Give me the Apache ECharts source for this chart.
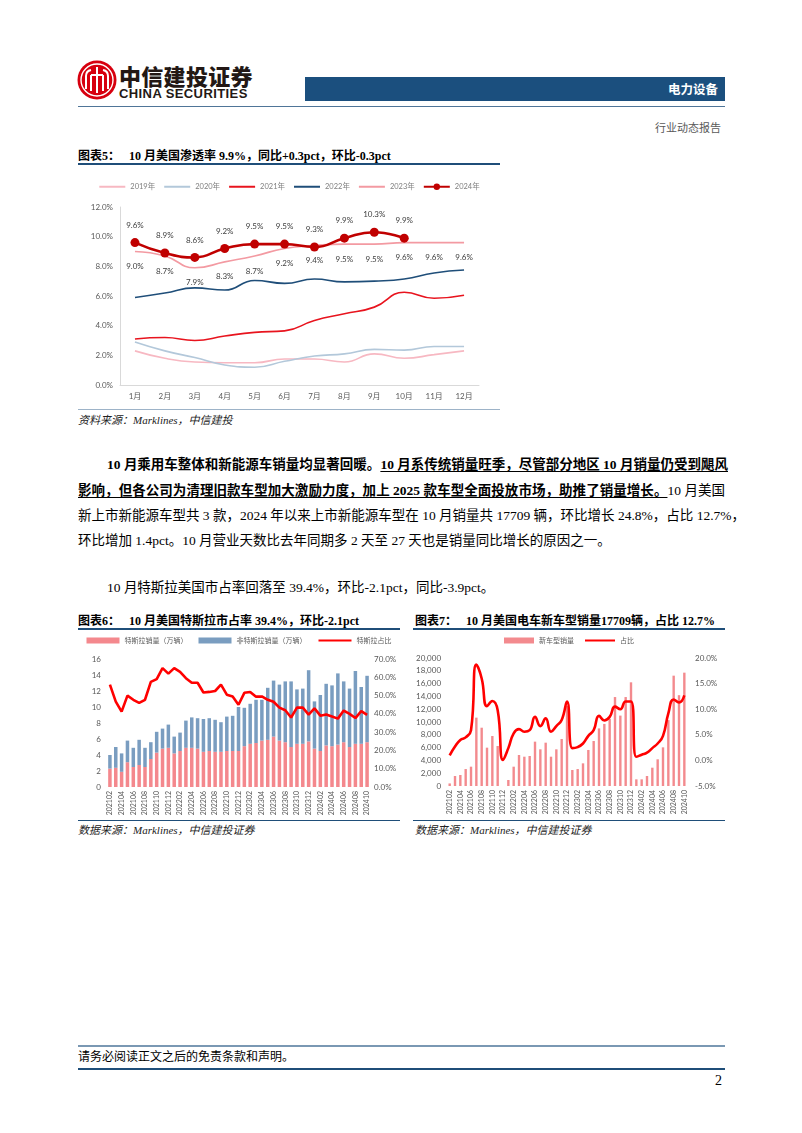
<!DOCTYPE html>
<html>
<head>
<meta charset="utf-8">
<script src="https://cdn.jsdelivr.net/npm/echarts/dist/echarts.min.js"></script>
<style>
  html, body { margin: 0; padding: 0; background: #fff; }
  #page { position: relative; width: 802px; height: 1133px; overflow: hidden; font-family: "Liberation Serif", "Noto Sans CJK SC", serif; color: #000; }
  .abs { position: absolute; white-space: nowrap; }
  .hline { position: absolute; height: 0; }
  .title { font-size: 12px; font-weight: bold; }
  .src { font-size: 11px; font-style: italic; color: #222; }
  .para { position: absolute; left: 78px; width: 647px; font-size: 13.5px; line-height: 18px; text-align: justify; text-align-last: justify; white-space: nowrap; }
  .bu { font-weight: bold; text-decoration: underline; text-underline-offset: 2px; }
  .b { font-weight: bold; }
</style>
</head>
<body>
<div id="page">
  <!-- header -->
  <svg class="abs" style="left:77px;top:60px" width="40" height="40" viewBox="0 0 40 40">
    <circle cx="20" cy="20" r="19.5" fill="#D7000F"/>
    <circle cx="20" cy="20" r="16" fill="none" stroke="#fff" stroke-width="1.4"/>
    <path d="M9 29 V16 Q9 11 14 10 M14 31 V15 M20 33 V7 M26 31 V15 M31 29 V16 Q31 11 26 10 M14 15 H26" fill="none" stroke="#fff" stroke-width="2"/>
  </svg>
  <div class="abs" style="left:119px;top:62px;font-family:'Noto Sans CJK SC';font-weight:900;font-size:22px;line-height:26px;color:#231815;letter-spacing:0.3px">中信建投证券</div>
  <div class="abs" style="left:119px;top:87px;font-family:'Liberation Sans';font-weight:bold;font-size:13px;line-height:14px;color:#231815;letter-spacing:0.4px">CHINA SECURITIES</div>
  <div class="abs" style="left:305px;top:77px;width:420px;height:24px;background:#1B4F7E"></div>
  <div class="abs" style="left:668px;top:80px;font-family:'Noto Sans CJK SC';font-weight:bold;font-size:12.5px;line-height:18px;color:#fff">电力设备</div>
  <div class="hline" style="left:78px;top:106px;width:647px;border-top:1.5px solid #4F7598"></div>
  <div class="abs" style="left:655px;top:119px;font-family:'Noto Sans CJK SC';font-size:11px;line-height:16px;color:#595959">行业动态报告</div>

  <!-- chart 5 -->
  <div class="abs title" style="left:78px;top:146px">图表5：&nbsp;&nbsp;&nbsp;10 月美国渗透率 9.9%，同比+0.3pct，环比-0.3pct</div>
  <div class="hline" style="left:78px;top:163px;width:422px;border-top:2px solid #1F4E79"></div>
  <div id="c5" class="abs" style="left:78px;top:170px;width:422px;height:238px"></div>
  <div class="hline" style="left:78px;top:409px;width:422px;border-top:1px solid #9DB3C8"></div>
  <div class="abs src" style="left:78px;top:411px">资料来源：Marklines，中信建投</div>

  <!-- paragraph -->
  <div class="para" style="top:456px;left:107px;width:618px"><span class="b">10 月乘用车整体和新能源车销量均显著回暖。</span><span class="bu">10 月系传统销量旺季，尽管部分地区 10 月销量仍受到飓风</span></div>
  <div class="para" style="top:482px"><span class="bu">影响，但各公司为清理旧款车型加大激励力度，加上 2025 款车型全面投放市场，助推了销量增长。</span>10 月美国</div>
  <div class="para" style="top:507px">新上市新能源车型共 3 款，2024 年以来上市新能源车型在 10 月销量共 17709 辆，环比增长 24.8%，占比 12.7%，</div>
  <div class="abs" style="left:78px;top:532px;font-size:13.5px;line-height:18px">环比增加 1.4pct。10 月营业天数比去年同期多 2 天至 27 天也是销量同比增长的原因之一。</div>
  <div class="abs" style="left:107px;top:579px;font-size:13.5px;line-height:18px">10 月特斯拉美国市占率回落至 39.4%，环比-2.1pct，同比-3.9pct。</div>

  <!-- chart 6 -->
  <div class="abs title" style="left:78px;top:611px">图表6：&nbsp;&nbsp;&nbsp;10 月美国特斯拉市占率 39.4%，环比-2.1pct</div>
  <div class="hline" style="left:78px;top:628px;width:322px;border-top:2px solid #1F4E79"></div>
  <div id="c6" class="abs" style="left:78px;top:631px;width:322px;height:188px"></div>
  <div class="hline" style="left:78px;top:820px;width:322px;border-top:1.5px solid #1F4E79"></div>
  <div class="abs src" style="left:78px;top:821px">数据来源：Marklines，中信建投证券</div>

  <!-- chart 7 -->
  <div class="abs title" style="left:415px;top:611px">图表7：&nbsp;&nbsp;&nbsp;10 月美国电车新车型销量17709辆，占比 12.7%</div>
  <div class="hline" style="left:413px;top:628px;width:312px;border-top:2px solid #1F4E79"></div>
  <div id="c7" class="abs" style="left:413px;top:631px;width:312px;height:188px"></div>
  <div class="hline" style="left:413px;top:820px;width:312px;border-top:1.5px solid #1F4E79"></div>
  <div class="abs src" style="left:415px;top:821px">数据来源：Marklines，中信建投证券</div>

  <!-- footer -->
  <div class="hline" style="left:78px;top:1045px;width:647px;border-top:2px solid #7A98B3"></div>
  <div class="abs" style="left:78px;top:1049px;font-size:12px;line-height:16px">请务必阅读正文之后的免责条款和声明。</div>
  <div class="hline" style="left:78px;top:1068px;width:647px;border-top:2px solid #1F4E79"></div>
  <div class="abs" style="left:715px;top:1073px;font-size:14px;line-height:16px">2</div>
</div>

<script>
// ---- chart 5: US EV penetration by month (%)
const months5 = ['1月', '2月', '3月', '4月', '5月', '6月', '7月', '8月', '9月', '10月', '11月', '12月'];
const pen2019 = [2.3, 1.8, 1.55, 1.5, 1.5, 1.75, 1.75, 1.55, 2.1, 1.8, 2.05, 2.3];
const pen2020 = [2.9, 2.3, 1.85, 1.35, 1.2, 1.6, 1.95, 2.1, 2.4, 2.35, 2.6, 2.6];
const pen2021 = [3.1, 3.2, 3.0, 3.3, 3.55, 3.65, 4.35, 4.8, 5.25, 6.25, 5.85, 6.05];
const pen2022 = [5.9, 6.2, 6.55, 6.4, 7.05, 6.85, 7.15, 6.95, 7.0, 7.15, 7.55, 7.75];
const pen2023 = [9.0, 8.7, 7.9, 8.3, 8.7, 9.2, 9.4, 9.5, 9.5, 9.6, 9.6, 9.6];
const pen2024 = [9.6, 8.9, 8.6, 9.2, 9.5, 9.5, 9.3, 9.9, 10.3, 9.9];

// ---- chart 6 / 7: monthly categories 2021-02 .. 2024-10
const months = [
  '202102', '202103', '202104', '202105', '202106', '202107', '202108', '202109', '202110', '202111', '202112',
  '202201', '202202', '202203', '202204', '202205', '202206', '202207', '202208', '202209', '202210', '202211', '202212',
  '202301', '202302', '202303', '202304', '202305', '202306', '202307', '202308', '202309', '202310', '202311', '202312',
  '202401', '202402', '202403', '202404', '202405', '202406', '202407', '202408', '202409', '202410'
];
// Tesla / non-Tesla sales (10k units), Tesla share (%)
const teslaSales = [2.3, 2.4, 1.9, 3.1, 2.5, 2.75, 2.5, 3.5, 4.3, 4.8, 4.9, 4.2, 4.5, 4.9, 4.9, 4.8, 4.4, 4.5, 4.4, 4.4, 4.5, 4.5, 4.5,
  5.1, 5.4, 5.5, 5.8, 5.9, 6.3, 5.8, 5.6, 5.0, 5.4, 5.4, 5.7, 4.8, 4.5, 5.2, 5.1, 5.3, 5.6, 5.0, 5.4, 5.4, 5.6];
const otherSales = [1.7, 2.6, 2.3, 2.7, 2.4, 3.15, 2.4, 2.1, 2.6, 2.5, 2.9, 2.1, 2.3, 3.4, 3.8, 3.8, 4.1, 4.1, 4.0, 3.7, 4.3, 4.4, 5.5,
  4.8, 5.0, 5.4, 5.1, 6.5, 7.0, 7.0, 7.6, 8.2, 6.8, 6.9, 8.9, 5.9, 7.0, 7.7, 7.6, 8.9, 7.6, 7.3, 9.1, 7.1, 8.3];
const teslaShare = [56, 46.7, 41.2, 50, 47.7, 46, 47.7, 57.5, 59, 65, 62, 65, 63, 59.5, 57, 57, 51.7, 52, 52.5, 56, 50.5, 49.5, 45,
  51.5, 52, 49.4, 49.5, 47.7, 46.6, 43.4, 42, 38, 43.4, 43.4, 39.6, 43, 39, 39.6, 38.6, 37.4, 41.8, 40, 37.7, 41.5, 39.4];

// New EV models sales (units) and share (%)
const newModelSales = [400, 1560, 1720, 2650, 3020, 10680, 9110, 5990, 7810, 6250, 0, 940, 3020, 4840, 4580, 4690, 6930, 5730, 6770,
  4580, 5730, 7340, 12500, 2500, 2650, 3540, 5630, 7030, 9000, 9700, 10500, 13900, 11000, 13900, 16200, 1040, 1040, 1560, 2860,
  4170, 6040, 10300, 17240, 14190, 17709];
const newModelShare = [1.0, 2.7, 4.0, 4.5, 5.9, 18.7, 16.0, 10.6, 11.6, 9.8, 0.1, 2.4, 5.3, 6.1, 5.6, 5.9, 8.5, 6.7, 8.2, 5.6, 6.7,
  7.9, 11.5, 2.4, 2.6, 3.3, 4.8, 5.9, 8.7, 7.8, 8.5, 10.5, 10.0, 11.5, 11.5, 0.7, 1.1, 1.5, 2.4, 3.3, 4.8, 9.2, 11.9, 11.3, 12.7];

const SANS = 'Lato, "Noto Sans CJK SC", sans-serif';
const CJK = '"Noto Sans CJK SC", sans-serif';
const pct1 = v => v.toFixed(1) + '%';
const axisGrey = '#D9D9D9';
const labelGrey = '#595959';
// legend entry showing a plain line (no marker dot)
const plainLine = name => ({ name, itemStyle: { opacity: 0 } });

// chart 5
const c5 = echarts.init(document.getElementById('c5'));
const line5 = (name, data, color, extra) => Object.assign({
  name, type: 'line', data, smooth: true, symbol: 'none',
  lineStyle: { color, width: 1.6 }, itemStyle: { color }
}, extra || {});
c5.setOption({
  animation: false,
  textStyle: { fontFamily: SANS },
  legend: {
    top: 8, left: 'center', itemWidth: 26, itemHeight: 8, itemGap: 8,
    textStyle: { fontSize: 7.5, color: '#7F7F7F', fontFamily: SANS },
    data: [plainLine('2019年'), plainLine('2020年'), plainLine('2021年'), plainLine('2022年'), plainLine('2023年'), '2024年']
  },
  grid: { left: 42, top: 37, width: 359, height: 178 },
  xAxis: {
    type: 'category', data: months5,
    axisLine: { lineStyle: { color: axisGrey } }, axisTick: { show: false },
    axisLabel: { fontSize: 8, color: labelGrey, margin: 7 }
  },
  yAxis: {
    type: 'value', min: 0, max: 12, interval: 2,
    axisLine: { show: true, lineStyle: { color: axisGrey } }, axisTick: { show: false },
    splitLine: { show: false },
    axisLabel: { fontSize: 8, color: labelGrey, margin: 7, formatter: pct1 }
  },
  series: [
    line5('2019年', pen2019, '#F7B8C2'),
    line5('2020年', pen2020, '#B3C8DA'),
    line5('2021年', pen2021, '#E8141E'),
    line5('2022年', pen2022, '#1F4E79'),
    line5('2023年', pen2023, '#F39AA2', {
      symbol: 'circle', symbolSize: 2, showSymbol: true,
      itemStyle: { color: 'rgba(0,0,0,0)' },
      label: { show: true, position: 'bottom', distance: 10, fontSize: 8, color: '#404040', formatter: p => pct1(p.value) }
    }),
    line5('2024年', pen2024, '#C00000', {
      symbol: 'circle', symbolSize: 9, lineStyle: { color: '#C00000', width: 2.6 },
      label: { show: true, position: 'top', distance: 9, fontSize: 8, color: '#404040', formatter: p => pct1(p.value) }
    })
  ]
});

// chart 6
const c6 = echarts.init(document.getElementById('c6'));
c6.setOption({
  animation: false,
  textStyle: { fontFamily: SANS },
  legend: {
    top: 6, left: 'center', padding: 0, itemWidth: 33, itemHeight: 6, itemGap: 11,
    textStyle: { fontSize: 7, color: labelGrey, fontFamily: CJK },
    data: [{ name: '特斯拉销量（万辆）', icon: 'rect' }, { name: '非特斯拉销量（万辆）', icon: 'rect' }, plainLine('特斯拉占比')]
  },
  grid: { left: 29, top: 28, width: 263, height: 128 },
  xAxis: {
    type: 'category', data: months,
    axisLine: { show: false }, axisTick: { show: false },
    axisLabel: { rotate: 90, interval: 1, fontSize: 7, color: labelGrey, margin: 4 }
  },
  yAxis: [
    { type: 'value', min: 0, max: 16, interval: 2, splitLine: { show: false },
      axisLine: { show: false }, axisTick: { show: false },
      axisLabel: { fontSize: 8, color: labelGrey, margin: 6 } },
    { type: 'value', min: 0, max: 70, interval: 10, splitLine: { show: false },
      axisLine: { show: false }, axisTick: { show: false },
      axisLabel: { fontSize: 8, color: labelGrey, margin: 4, formatter: pct1 } }
  ],
  series: [
    { name: '特斯拉销量（万辆）', type: 'bar', stack: 'sales', data: teslaSales, barWidth: '60%',
      itemStyle: { color: '#F4888D' } },
    { name: '非特斯拉销量（万辆）', type: 'bar', stack: 'sales', data: otherSales, barWidth: '60%',
      itemStyle: { color: '#7A9DC0' } },
    { name: '特斯拉占比', type: 'line', yAxisIndex: 1, data: teslaShare, symbol: 'none',
      lineStyle: { color: '#FF0000', width: 2.6 }, itemStyle: { color: '#FF0000' } }
  ]
});

// chart 7
const c7 = echarts.init(document.getElementById('c7'));
c7.setOption({
  animation: false,
  textStyle: { fontFamily: SANS },
  legend: {
    top: 6, left: 'center', padding: 0, itemWidth: 30, itemHeight: 6, itemGap: 10,
    textStyle: { fontSize: 7, color: labelGrey, fontFamily: CJK },
    data: [{ name: '新车型销量', icon: 'rect' }, plainLine('占比')]
  },
  grid: { left: 34, top: 27, width: 240, height: 128 },
  xAxis: {
    type: 'category', data: months,
    axisLine: { show: false }, axisTick: { show: false },
    axisLabel: { rotate: 90, interval: 1, fontSize: 7, color: labelGrey, margin: 4 }
  },
  yAxis: [
    { type: 'value', min: 0, max: 20000, interval: 2000, splitLine: { show: false },
      axisLine: { show: false }, axisTick: { show: false },
      axisLabel: { fontSize: 8, color: labelGrey, margin: 6 } },
    { type: 'value', min: -5, max: 20, interval: 5, splitLine: { show: false },
      axisLine: { show: false }, axisTick: { show: false },
      axisLabel: { fontSize: 8, color: labelGrey, margin: 8, formatter: pct1 } }
  ],
  series: [
    { name: '新车型销量', type: 'bar', data: newModelSales, barWidth: '45%',
      itemStyle: { color: '#F38A8E' } },
    { name: '占比', type: 'line', yAxisIndex: 1, data: newModelShare, smooth: true, symbol: 'none',
      lineStyle: { color: '#FF0000', width: 2.6 }, itemStyle: { color: '#FF0000' } }
  ]
});
</script>
</body>
</html>
